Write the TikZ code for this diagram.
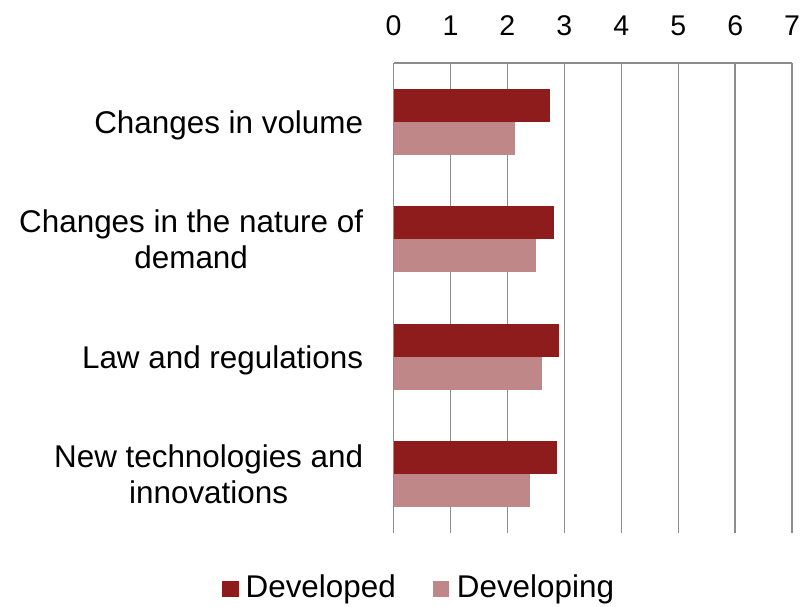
\documentclass[tikz,border=0pt]{standalone}
\usepackage{fontspec}
\setmainfont{Liberation Sans}
\definecolor{devd}{HTML}{8E1C1D}
\definecolor{devg}{HTML}{BF8787}
\definecolor{gridgray}{HTML}{8C8C8C}

\begin{document}
\begin{tikzpicture}[x=56.95pt, y=-1pt,
    every node/.style={inner sep=0pt, font=\fontsize{31.4}{36.3}\selectfont},
    ticklabel/.style={anchor=base, font=\fontsize{28.5}{34}\selectfont},
    catlabel/.style={anchor=base east, align=center},
    gridline/.style={gridgray, line width=1.5pt},
    barhigh/.style={fill=devd},
    barlow/.style={fill=devg}]
  \useasboundingbox (-6.9096,0) rectangle (7.1554,606);

  % value axis on top, with its grid
  \draw[gridline] (0,63) -- (7,63);
  \foreach \i in {0,...,7} {
    \draw[gridline] (\i,63) -- (\i,533);
    \node[ticklabel] (tick\i) at (\i,35.5) {\i};
  }

  % bars: developed above, developing below the centre of each group
  \fill[barhigh] (0,88.75) rectangle (2.75,121.75);
  \fill[barlow] (0,121.75) rectangle (2.14,154.75);
  \fill[barhigh] (0,206.25) rectangle (2.82,239.25);
  \fill[barlow] (0,239.25) rectangle (2.51,272.25);
  \fill[barhigh] (0,323.75) rectangle (2.90,356.75);
  \fill[barlow] (0,356.75) rectangle (2.61,389.75);
  \fill[barhigh] (0,441.25) rectangle (2.87,474.25);
  \fill[barlow] (0,474.25) rectangle (2.39,507.25);

  % category names (base = baseline of the last line)
  \node[catlabel] (volume) at (-0.53,133.25) {Changes in volume};
  \node[catlabel] (nature) at (-0.53,268.5) {Changes in the nature of\\demand};
  \node[catlabel] (law) at (-0.53,368.25) {Law and regulations};
  \node[catlabel] (tech) at (-0.53,503.5) {New technologies and\\innovations};

  % legend
  \fill[barhigh] (-3.0175,580.7) rectangle (-2.7085,596.7);
  \node[anchor=base west] (legdevd) at (-2.60,597) {Developed};
  \fill[barlow] (0.689,580.7) rectangle (0.9805,596.7);
  \node[anchor=base west] (legdevg) at (1.11,597) {Developing};
\end{tikzpicture}
\end{document}
